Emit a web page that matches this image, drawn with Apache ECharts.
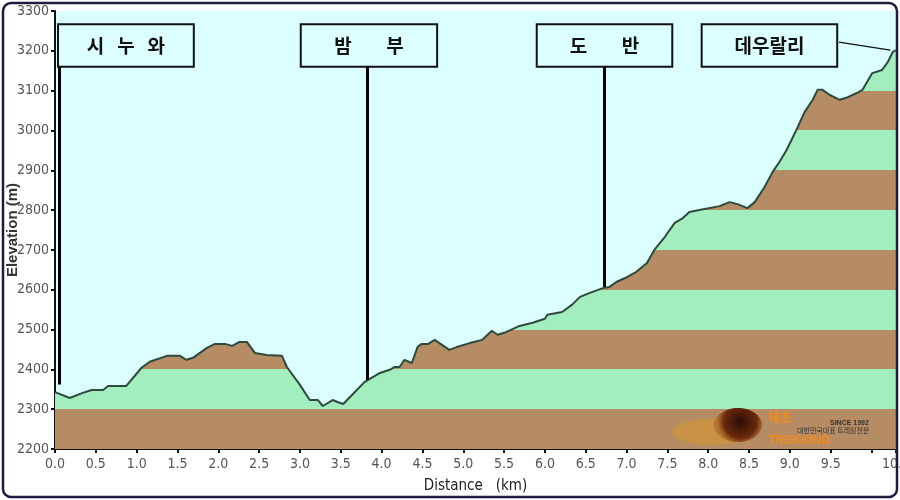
<!DOCTYPE html>
<html>
<head>
<meta charset="utf-8">
<script src="https://cdn.jsdelivr.net/npm/echarts@6/dist/echarts.min.js"></script>
<style>
html,body{margin:0;padding:0;background:#fff;}
#c{width:900px;height:500px;}
</style>
</head>
<body>
<div id="c"></div>
<script>
// Distance (km) and elevation (m) of the trail profile
const distanceKm = [0.00,0.18,0.34,0.45,0.59,0.65,0.87,1.06,1.16,1.37,1.53,1.61,1.69,1.86,1.96,2.08,2.17,2.26,2.35,2.45,2.59,2.78,2.84,3.00,3.12,3.22,3.28,3.40,3.46,3.53,3.79,3.83,3.98,4.10,4.16,4.22,4.28,4.37,4.44,4.49,4.57,4.65,4.83,4.92,5.08,5.23,5.35,5.42,5.53,5.69,5.85,6.00,6.03,6.21,6.33,6.43,6.55,6.71,6.79,6.88,7.01,7.12,7.25,7.34,7.47,7.59,7.69,7.77,7.89,8.14,8.26,8.36,8.48,8.57,8.69,8.79,8.87,8.96,9.02,9.09,9.18,9.28,9.34,9.40,9.49,9.61,9.69,9.82,9.89,10.01,10.13,10.20,10.26,10.30];
const elevationM = [2343,2328,2341,2348,2348,2358,2358,2404,2419,2434,2434,2424,2429,2454,2464,2464,2459,2469,2469,2441,2436,2434,2406,2361,2323,2323,2308,2323,2318,2313,2368,2373,2391,2399,2406,2406,2424,2416,2456,2464,2464,2474,2449,2456,2466,2474,2497,2487,2494,2509,2517,2527,2537,2544,2562,2582,2592,2604,2607,2620,2632,2645,2667,2700,2733,2768,2780,2795,2800,2810,2820,2815,2805,2820,2858,2896,2920,2951,2976,3006,3046,3077,3102,3102,3089,3077,3082,3094,3102,3144,3152,3172,3197,3202];

// Place names and their annotation boxes / pointer lines
const placeNames = ['시   누   와', '밤        부', '도        반', '데우랄리'];
const boxX = [[0.037, 1.70], [3.01, 4.68], [5.90, 7.56], [7.92, 9.58]];
const boxY = [3267, 3160];
const pointerLines = [
  [[0.05, 3160], [0.05, 2362]],
  [[3.83, 3160], [3.83, 2373]],
  [[6.73, 3160], [6.73, 2607]]
];
const diagLine = [[9.60, 3222], [10.23, 3202]];

const yTicks = [2200, 3300, 100];
const xTicks = [0, 10.3, 0.5];

const BROWN = '#b58c64';
const GREEN = '#a2eebe';
const LABEL_FONT = '"Liberation Sans Narrow","DejaVu Sans Condensed","Liberation Sans",Arial,sans-serif';

const chart = echarts.init(document.getElementById('c'), null, {renderer: 'canvas'});
const pts = distanceKm.map((d, i) => [d, elevationM[i]]);

const option = {
  animation: false,
  backgroundColor: '#ffffff',
  grid: {left: 55, right: 4, top: 11, bottom: 51, show: true, backgroundColor: '#dbffff', borderWidth: 0, outerBoundsMode: 'none'},
  xAxis: {
    type: 'value', min: xTicks[0], max: xTicks[1], interval: xTicks[2],
    name: 'Distance   (km)', nameLocation: 'middle', nameGap: 30, nameMoveOverlap: false,
    nameTextStyle: {fontSize: 15, color: '#222', fontFamily: LABEL_FONT},
    axisLine: {show: true, onZero: false, lineStyle: {color: '#111', width: 2}},
    axisTick: {show: true, length: 4, lineStyle: {color: '#111', width: 2}},
    splitLine: {show: false},
    axisLabel: {
      fontSize: 14, color: '#555', fontFamily: LABEL_FONT, margin: 8,
      showMinLabel: true, showMaxLabel: true,
      formatter: v => (Math.abs(v - 10) < 1e-6 ? '' : v.toFixed(1))
    }
  },
  yAxis: {
    type: 'value', min: yTicks[0], max: yTicks[1], interval: yTicks[2],
    name: 'Elevation (m)', nameLocation: 'middle', nameGap: 35, nameRotate: 90, nameMoveOverlap: false,
    nameTextStyle: {fontSize: 15, fontWeight: 'bold', color: '#333', fontFamily: '"Liberation Sans",Arial,sans-serif'},
    axisLine: {show: true, lineStyle: {color: '#111', width: 2}},
    axisTick: {show: true, length: 4, lineStyle: {color: '#111', width: 2}},
    splitLine: {show: false},
    axisLabel: {fontSize: 14, color: '#555', fontFamily: LABEL_FONT, margin: 6, formatter: v => String(v)}
  },
  series: [{
    type: 'line',
    data: pts,
    symbol: 'none',
    smooth: false,
    lineStyle: {color: '#2e4a3c', width: 2},
    areaStyle: {color: BROWN, opacity: 1, origin: 'start'},
    z: 2,
    markArea: {
      silent: true,
      itemStyle: {color: '#dcffff', borderColor: '#111', borderWidth: 2},
      label: {show: true, position: 'inside', fontSize: 19, fontWeight: 'bold', color: '#111', fontFamily: '"Noto Sans CJK KR",sans-serif'},
      data: placeNames.map((n, i) => [
        {name: n, coord: [boxX[i][0], boxY[0]]},
        {coord: [boxX[i][1], boxY[1]]}
      ])
    },
    markLine: {
      silent: true,
      symbol: 'none',
      label: {show: false},
      data: pointerLines.map(l => [
        {coord: l[0], lineStyle: {color: '#000', width: 3, type: 'solid'}},
        {coord: l[1]}
      ]).concat([[
        {coord: diagLine[0], lineStyle: {color: '#111', width: 1.3, type: 'solid'}},
        {coord: diagLine[1]}
      ]])
    }
  }],
  graphic: [
    // logo approximation
    {type: 'ellipse', shape: {cx: 712, cy: 432, rx: 40, ry: 13}, style: {fill: 'rgba(215,150,40,0.55)'}, z: 9},
    {type: 'ellipse', shape: {cx: 738, cy: 425, rx: 24, ry: 17}, style: {fill: new echarts.graphic.RadialGradient(0.55, 0.4, 0.7, [{offset: 0, color: '#2a0c04'}, {offset: 0.7, color: '#6a2a0c'}, {offset: 1, color: 'rgba(160,90,30,0.5)'}])}, z: 10},
    {type: 'text', x: 768, y: 411, style: {text: '혜초', fontSize: 13, fontWeight: 'bold', fill: '#f08a1c', fontFamily: '"Noto Sans CJK KR",sans-serif'}, z: 10},
    {type: 'text', x: 830, y: 420, style: {text: 'SINCE 1992', fontSize: 7, fontWeight: 'bold', fill: '#333', fontFamily: 'Arial,sans-serif'}, z: 10},
    {type: 'text', x: 797, y: 427, style: {text: '대한민국대표 트레킹전문', fontSize: 7, fill: '#333', fontFamily: '"Noto Sans CJK KR",sans-serif'}, z: 10},
    {type: 'text', x: 768, y: 435, style: {text: 'TREKKING', fontSize: 12, fontWeight: 'bold', fill: '#f08a1c', fontFamily: 'Arial,sans-serif'}, z: 10},
    // outer frame
    {type: 'rect', shape: {x: 3, y: 3, width: 894, height: 494, r: 8}, style: {fill: 'none', stroke: '#1c1c40', lineWidth: 2.5}, z: 100}
  ]
};
chart.setOption(option);

// band fill: alternating 100 m stripes aligned to the y axis scale
const yTop = chart.convertToPixel({yAxisIndex: 0}, yTicks[1]);
const yBot = chart.convertToPixel({yAxisIndex: 0}, yTicks[0]);
const nBands = Math.round((yTicks[1] - yTicks[0]) / yTicks[2]);
const stops = [];
for (let k = 0; k < nBands; k++) {
  const bandIndexFromBottom = nBands - 1 - k;
  const col = bandIndexFromBottom % 2 === 0 ? BROWN : GREEN;
  stops.push({offset: k / nBands, color: col});
  stops.push({offset: (k + 1) / nBands, color: col});
}
chart.setOption({series: [{areaStyle: {color: new echarts.graphic.LinearGradient(0, yTop, 0, yBot, stops, true), opacity: 1}}]});
</script>
</body>
</html>
